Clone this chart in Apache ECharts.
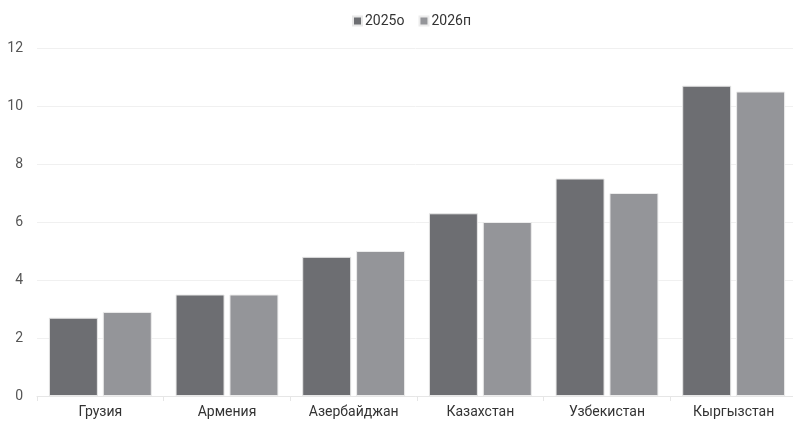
<!DOCTYPE html>
<html>
<head>
<meta charset="utf-8">
<script src="https://cdn.jsdelivr.net/npm/echarts@6/dist/echarts.min.js"></script>
<style>
  html, body { margin: 0; padding: 0; background: #fff; }
  #chart { width: 793px; height: 421px; }
</style>
</head>
<body>
<div id="chart"></div>
<script>
// Countries on the category axis
const countries = ['Грузия', 'Армения', 'Азербайджан', 'Казахстан', 'Узбекистан', 'Кыргызстан'];
// Values for each year
const values2025 = [2.7, 3.5, 4.8, 6.3, 7.5, 10.7];
const values2026 = [2.9, 3.5, 5.0, 6.0, 7.0, 10.5];
const seriesNames = ['2025о', '2026п'];

const chart = echarts.init(document.getElementById('chart'));
chart.setOption({
  animation: false,
  textStyle: { fontFamily: 'Roboto, "Liberation Sans", sans-serif' },
  legend: {
    top: 9,
    left: 347,
    itemWidth: 9,
    itemHeight: 9,
    itemGap: 14,
    icon: 'rect',
    textStyle: { color: '#333', fontSize: 14, padding: [0, 0, 0, -2] }
  },
  grid: { left: 37, top: 48, width: 760, bottom: 25, outerBoundsMode: 'none' },
  xAxis: {
    type: 'category',
    data: countries,
    axisLine: { lineStyle: { color: '#e6e6e6' } },
    axisTick: { show: true, length: 5, lineStyle: { color: '#e6e6e6' } },
    axisLabel: { color: '#333', fontSize: 14, margin: 9 }
  },
  yAxis: {
    type: 'value',
    min: 0,
    max: 12,
    interval: 2,
    axisLabel: { color: '#555', fontSize: 14, margin: 14 },
    splitLine: { lineStyle: { color: '#f0f0f0' } }
  },
  series: [
    {
      name: seriesNames[0],
      type: 'bar',
      data: values2025,
      barWidth: 49,
      barGap: '10%',
      itemStyle: { color: '#6d6e72', borderColor: '#e8e8e8', borderWidth: 1 }
    },
    {
      name: seriesNames[1],
      type: 'bar',
      data: values2026,
      barWidth: 49,
      barGap: '10%',
      itemStyle: { color: '#949599', borderColor: '#ececec', borderWidth: 1 }
    }
  ]
});
</script>
</body>
</html>
